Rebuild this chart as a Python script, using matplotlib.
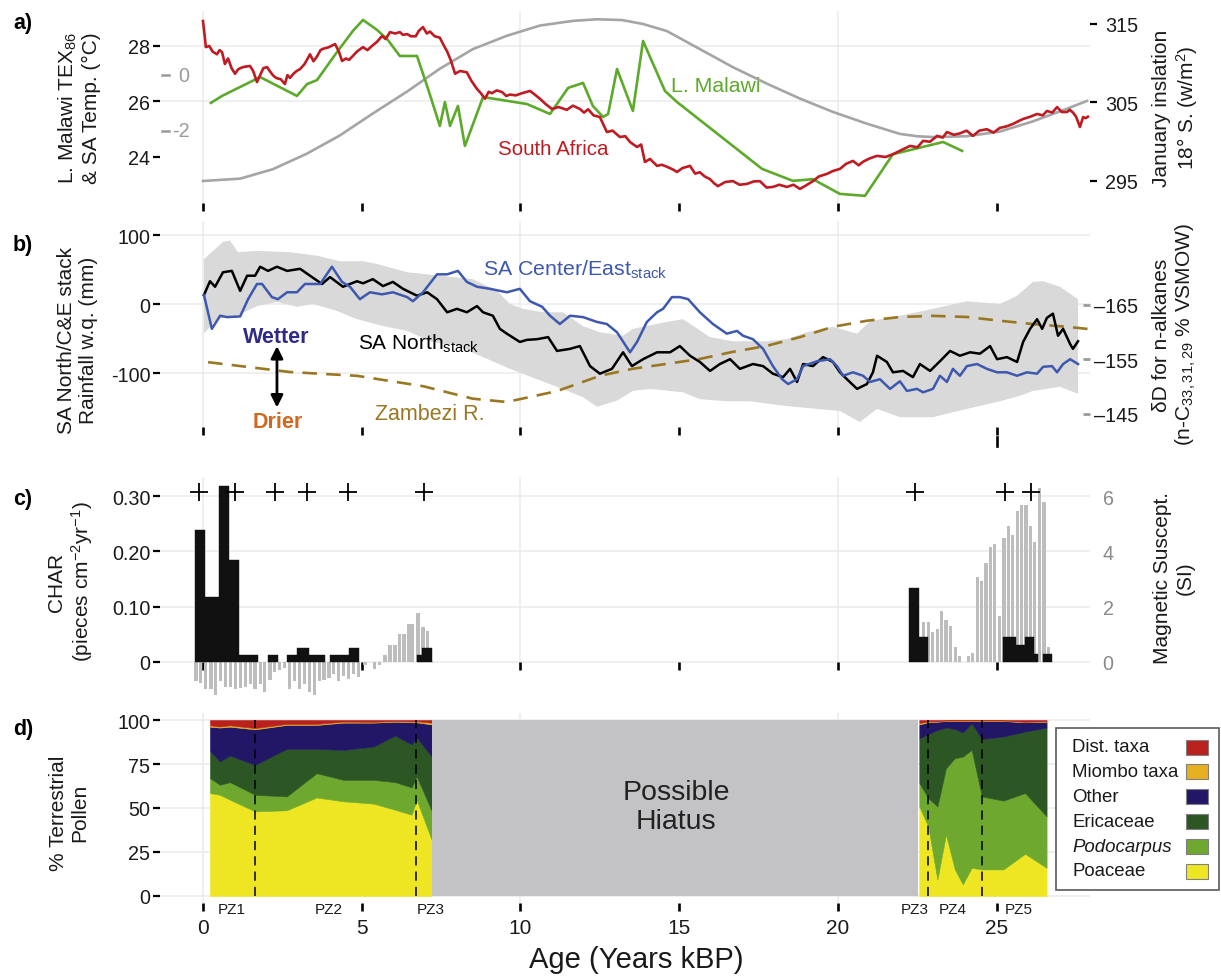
import matplotlib
matplotlib.use('Agg')
import matplotlib.pyplot as plt
from matplotlib.patches import Rectangle

plt.rcParams['font.family'] = ['Liberation Sans', 'DejaVu Sans']
plt.rcParams['mathtext.default'] = 'regular'

# ---------------- panel a data ----------------
sa_age = [
 0.00, 0.05, 0.09, 0.20, 0.30, 0.44, 0.52, 0.60, 0.69, 0.79,
 0.90, 1.01, 1.10, 1.17, 1.30, 1.48, 1.58, 1.70, 1.80, 1.90,
 2.02, 2.10, 2.20, 2.30, 2.45, 2.58, 2.66, 2.74, 2.85, 2.95,
 3.06, 3.20, 3.37, 3.48, 3.59, 3.70, 3.78, 3.95, 4.16, 4.28,
 4.38, 4.50, 4.60, 4.72, 4.85, 5.04, 5.18, 5.32, 5.48, 5.64,
 5.75, 5.89, 6.05, 6.20, 6.30, 6.43, 6.55, 6.70, 6.80, 6.93,
 7.05, 7.15, 7.30, 7.46, 7.57, 7.69, 7.80, 7.94, 8.10, 8.31,
 8.45, 8.63, 8.75, 8.88, 9.00, 9.10, 9.25, 9.42, 9.55, 9.67,
 9.85, 10.05, 10.30, 10.45, 10.61, 10.80, 10.99, 11.20, 11.46, 11.65,
 11.87, 12.00, 12.13, 12.30, 12.50, 12.72, 12.90, 13.13, 13.30, 13.45,
 13.67, 13.80, 13.92, 14.08, 14.30, 14.45, 14.61, 14.80, 14.93, 15.10,
 15.34, 15.50, 15.65, 15.80, 15.97, 16.10, 16.22, 16.45, 16.69, 16.90,
 17.13, 17.35, 17.54, 17.75, 17.95, 18.15, 18.39, 18.60, 18.80, 19.00,
 19.21, 19.40, 19.65, 19.85, 20.06, 20.25, 20.47, 20.65, 20.79, 21.00,
 21.23, 21.50, 21.73, 22.00, 22.27, 22.50, 22.68, 22.90, 23.12, 23.30,
 23.43, 23.65, 23.84, 24.05, 24.25, 24.45, 24.69, 24.90, 25.10, 25.30,
 25.51, 25.70, 25.83, 26.05, 26.27, 26.45, 26.58, 26.75, 26.90, 27.05,
 27.21, 27.30, 27.40, 27.50, 27.62, 27.72, 27.80, 27.87]
sa_temp = [
 28.90, 28.40, 27.96, 28.00, 27.80, 27.70, 27.85, 27.78, 27.35, 27.55,
 27.20, 27.00, 27.15, 27.20, 27.25, 27.28, 27.10, 26.70, 26.95, 27.20,
 27.24, 27.10, 26.95, 26.85, 26.80, 26.63, 26.95, 26.85, 27.00, 27.10,
 27.17, 27.35, 27.70, 27.45, 27.62, 27.85, 27.90, 27.95, 28.07, 27.80,
 27.46, 27.55, 27.50, 27.64, 27.80, 27.96, 27.85, 28.00, 28.15, 28.36,
 28.25, 28.50, 28.45, 28.50, 28.40, 28.43, 28.35, 28.35, 28.55, 28.68,
 28.45, 28.52, 28.35, 28.30, 28.05, 27.80, 27.50, 27.00, 27.10, 27.05,
 26.75, 26.45, 26.30, 26.10, 26.35, 26.30, 26.40, 26.34, 26.20, 26.25,
 26.22, 26.30, 26.38, 26.25, 26.10, 25.90, 25.73, 25.80, 25.70, 25.85,
 25.73, 25.60, 25.72, 25.50, 25.44, 24.90, 24.95, 24.72, 24.75, 24.54,
 24.36, 24.45, 23.82, 23.93, 23.68, 23.72, 23.65, 23.55, 23.46, 23.60,
 23.68, 23.40, 23.45, 23.30, 23.20, 23.05, 22.95, 23.10, 23.13, 23.00,
 23.03, 23.12, 23.13, 22.90, 22.92, 23.00, 22.92, 23.00, 22.85, 22.98,
 23.13, 23.30, 23.39, 23.50, 23.57, 23.75, 23.86, 23.70, 23.83, 23.95,
 24.04, 24.00, 24.10, 24.25, 24.40, 24.35, 24.58, 24.55, 24.76, 24.70,
 24.90, 24.80, 24.85, 24.95, 24.76, 24.95, 25.00, 24.88, 25.05, 25.10,
 25.19, 25.30, 25.37, 25.45, 25.55, 25.50, 25.66, 25.60, 25.80, 25.62,
 25.62, 25.70, 25.60, 25.45, 25.08, 25.44, 25.40, 25.45]

mal_age = [0.25, 0.60, 1.80, 2.96, 3.28, 3.59, 4.22, 4.72, 5.04, 5.48,
           5.80, 6.20, 6.74, 7.09, 7.46, 7.62, 7.78, 8.03, 8.25, 8.82,
           10.20, 10.93, 11.50, 11.97, 12.28, 12.60, 12.76, 13.04, 13.54, 13.86,
           14.55, 14.93, 17.61, 18.58, 19.21, 20.06, 20.85, 21.73, 23.31, 23.91]
mal_temp = [25.95, 26.20, 26.88, 26.20, 26.63, 26.77, 27.78, 28.54, 28.94, 28.58,
            28.25, 27.64, 27.64, 26.45, 25.12, 25.98, 25.12, 25.84, 24.40, 26.16,
            25.91, 25.55, 26.49, 26.67, 25.84, 25.44, 25.55, 27.17, 25.66, 28.18,
            26.38, 25.98, 23.57, 23.14, 23.20, 22.67, 22.60, 24.10, 24.54, 24.22]

ins_age = [0, 1.17, 2.2, 3.28, 4.31, 5.35, 6.43, 7.46, 8.5, 9.57,
           10.61, 11.65, 12.41, 13.2, 13.86, 14.61, 15.65, 16.69, 17.76, 18.8,
           19.84, 20.91, 21.95, 22.49, 22.99, 24.06, 25.1, 26.14, 27.21, 27.84]
ins_val = [295.0, 295.3, 296.5, 298.5, 300.8, 303.6, 306.4, 309.3, 311.8, 313.5,
           314.8, 315.4, 315.6, 315.5, 315.0, 314.1, 311.8, 309.5, 307.4, 305.5,
           303.8, 302.3, 301.0, 300.7, 300.6, 300.7, 301.3, 302.6, 304.2, 305.2]

anom_ticks = [0, -2]
anom_zero_temp = 26.94

# ---------------- panel b data ----------------
north_age = [0.03, 0.22, 0.38, 0.63, 0.91, 1.17, 1.39, 1.64, 1.80, 2.05,
 2.33, 2.65, 3.06, 3.37, 3.75, 4.00, 4.41, 4.85, 5.04, 5.35,
 5.67, 5.98, 6.30, 6.74, 7.06, 7.37, 7.69, 8.00, 8.31, 8.63,
 8.82, 9.13, 9.35, 9.57, 9.98, 10.20, 10.52, 10.87, 11.15, 11.56,
 11.87, 12.19, 12.50, 12.88, 13.23, 13.51, 13.86, 14.30, 14.71, 15.02,
 15.34, 15.65, 15.97, 16.28, 16.60, 16.91, 17.32, 17.64, 17.95, 18.27,
 18.49, 18.71, 18.90, 19.21, 19.53, 19.84, 20.06, 20.28, 20.60, 20.91,
 21.10, 21.23, 21.54, 21.73, 22.05, 22.36, 22.58, 22.90, 23.21, 23.53,
 23.84, 24.16, 24.47, 24.79, 25.01, 25.32, 25.64, 25.83, 26.05, 26.27,
 26.43, 26.58, 26.77, 26.93, 27.09, 27.31, 27.40, 27.56]
north_val = [13, 33, 25, 46, 48, 19, 41, 41, 54, 48,
 54, 48, 51, 41, 29, 39, 25, 33, 30, 36,
 26, 32, 22, 12, 17, 7, -12, -7, -12, -3,
 -12, -17, -36, -43, -55, -52, -51, -48, -68, -65,
 -61, -90, -101, -94, -70, -90, -80, -70, -70, -61,
 -75, -84, -97, -87, -80, -94, -87, -90, -101, -106,
 -94, -113, -87, -90, -77, -84, -99, -109, -123, -116,
 -99, -75, -84, -99, -97, -106, -87, -97, -83, -68,
 -75, -70, -72, -61, -80, -77, -84, -55, -36, -22,
 -36, -20, -14, -46, -36, -58, -65, -54]

ce_age = [0.03, 0.28, 0.54, 0.76, 1.17, 1.42, 1.70, 1.86, 2.17, 2.36,
 2.65, 2.96, 3.21, 3.69, 4.06, 4.38, 4.63, 4.94, 5.26, 5.64,
 5.98, 6.43, 6.61, 6.93, 7.37, 7.69, 8.03, 8.31, 8.63, 9.04,
 9.57, 9.98, 10.30, 10.68, 10.93, 11.24, 11.56, 11.97, 12.41, 12.72,
 13.04, 13.45, 13.67, 13.98, 14.30, 14.49, 14.77, 15.02, 15.28, 15.65,
 16.06, 16.50, 16.82, 17.01, 17.32, 17.64, 17.95, 18.24, 18.43, 18.71,
 18.90, 19.34, 19.75, 19.97, 20.16, 20.47, 20.79, 21.01, 21.32, 21.64,
 21.95, 22.17, 22.49, 22.68, 22.99, 23.21, 23.43, 23.62, 23.84, 24.06,
 24.38, 24.69, 25.01, 25.32, 25.64, 25.95, 26.27, 26.46, 26.74, 26.90,
 27.09, 27.31, 27.56]
ce_val = [13, -36, -17, -19, -18, 7, 29, 29, 10, 7,
 17, 17, 29, 29, 54, 32, 25, 7, 17, 14,
 17, 10, 4, 17, 43, 43, 48, 32, 25, 22,
 17, 22, 4, -4, -17, -29, -17, -19, -26, -29,
 -41, -70, -55, -26, -12, -7, 10, 10, 7, -12,
 -29, -43, -39, -46, -51, -65, -90, -109, -116, -109,
 -90, -83, -80, -90, -104, -99, -104, -113, -109, -123,
 -112, -126, -123, -128, -123, -104, -113, -94, -104, -90,
 -87, -94, -99, -99, -104, -99, -101, -91, -90, -99,
 -87, -80, -87]

band_up_age = [0.03, 0.63, 0.85, 1.10, 1.70, 2.74, 3.59, 4.31, 5.04, 5.48,
 6.43, 7.46, 8.50, 9.26, 9.67, 10.08, 10.71, 11.34, 11.97, 12.50,
 13.23, 13.54, 14.61, 15.12, 15.97, 16.69, 17.76, 18.39, 19.02, 19.84,
 20.60, 21.01, 21.95, 22.99, 24.06, 25.10, 25.64, 26.14, 26.46, 26.99, 27.56]
band_up = [65, 90, 92, 75, 77, 75, 70, 62, 62, 58,
 46, 41, 36, 19, 0, -7, -12, -12, -32, -41,
 -46, -36, -26, -22, -48, -54, -54, -51, -41, -33,
 -43, -25, -17, -7, 4, 0, 12, 32, 33, 25, 7]
band_lo_age = [0.03, 0.44, 1.07, 1.70, 2.33, 2.96, 3.46, 4.22, 4.85, 5.67,
 6.43, 7.15, 8.00, 8.72, 9.67, 10.52, 11.15, 11.97, 12.41, 13.04,
 13.54, 14.08, 15.12, 15.65, 16.50, 17.23, 18.39, 19.34, 20.06, 20.69,
 21.23, 21.95, 22.99, 24.06, 25.10, 25.73, 26.14, 26.99, 27.56]
band_lo = [-43, -22, -17, -3, 3, -4, 0, -10, -22, -32,
 -39, -54, -61, -75, -94, -109, -120, -135, -149, -140,
 -126, -123, -128, -138, -141, -141, -148, -152, -155, -171,
 -152, -164, -164, -152, -141, -133, -126, -120, -130]

zam_age = [0.16, 2.74, 4.85, 6.93, 8.50, 9.57, 11.15, 12.50, 13.54, 14.61,
           15.65, 16.69, 17.76, 18.80, 19.84, 20.91, 21.95, 22.99, 24.06, 25.10,
           26.14, 27.21, 27.87]
zam_dD = [-154.5, -152.7, -152.0, -150.1, -147.8, -147.2, -149.2, -152.0, -153.3, -154.2,
          -155.1, -156.4, -157.5, -159.1, -161.0, -162.1, -162.8, -163.0, -162.8, -162.1,
          -161.5, -161.0, -160.6]

# ---------------- panel c data ----------------
char_start = [-0.25, 0.06, 0.51, 0.83, 1.13, 1.43, 2.06, 2.66, 2.95, 3.35, 4.00,
              4.61, 6.73, 6.89, 22.25, 22.56, 25.19, 25.61, 25.89, 26.17, 26.45]
char_end = [0.06, 0.51, 0.83, 1.13, 1.43, 1.74, 2.35, 2.95, 3.35, 3.84, 4.61,
            4.91, 6.89, 7.20, 22.56, 22.83, 25.61, 25.89, 26.17, 26.31, 26.73]
char_val = [0.238, 0.118, 0.318, 0.185, 0.012, 0.012, 0.012, 0.012, 0.025, 0.012, 0.012,
            0.025, 0.012, 0.025, 0.133, 0.046, 0.046, 0.031, 0.046, 0.015, 0.015]

mag_age = [-0.22, -0.07, 0.09, 0.25, 0.40, 0.56, 0.71, 0.87, 1.02, 1.18,
           1.33, 1.49, 1.64, 1.80, 1.95, 2.11, 2.26, 2.42, 2.57, 2.73,
           2.88, 3.04, 3.19, 3.35, 3.50, 3.66, 3.81, 3.97, 4.12, 4.28,
           4.43, 4.59, 4.74, 4.90, 5.10, 5.40, 5.55,
           5.73, 5.89, 6.05, 6.20, 6.33, 6.49, 6.61, 6.77, 6.93, 7.06, 7.21,
           22.69, 22.84, 22.98, 23.13, 23.27, 23.40, 23.55, 23.69, 23.82, 24.10,
           24.24, 24.39, 24.53, 24.66, 24.81, 24.94, 25.08, 25.23, 25.36, 25.50,
           25.65, 25.79, 25.92, 26.07, 26.20, 26.34, 26.49, 26.62]
mag_val = [-0.70, -0.75, -0.96, -0.96, -1.20, -0.70, -0.90, -0.90, -0.96, -0.93,
           -0.90, -0.78, -0.96, -0.78, -1.08, -0.66, -0.36, -0.30, -0.20, -0.96,
           -0.70, -0.96, -0.78, -1.10, -1.20, -0.70, -0.66, -0.57, -0.45, -0.70,
           -0.50, -0.60, -0.45, -0.55, -0.12, -0.25, -0.12,
           0.26, 0.60, 0.60, 1.00, 1.00, 1.36, 1.36, 1.77, 1.26, 1.12, 0.05,
           1.43, 1.43, 1.10, 1.20, 1.86, 1.53, 1.31, 0.55, 0.22, 0.22,
           0.33, 3.06, 2.94, 3.59, 4.16, 4.25, 1.65, 4.47, 4.90, 4.59,
           5.45, 5.67, 5.67, 4.90, 4.35, 6.30, 5.78, 0.55]

peak_age = [-0.12, 1.01, 2.27, 3.29, 4.58, 6.96, 22.43, 25.26, 26.07]
peak_level = 0.307

# ---------------- panel d data ----------------
hol_age = [0.22, 0.53, 0.85, 1.64, 2.64, 3.58, 4.42, 5.37, 6.05, 6.57, 6.73, 7.20]
hol_poa = [58.5, 57.5, 54.7, 48.1, 48.7, 56.0, 53.8, 52.5, 49.0, 46.2, 54.7, 32.0]
hol_podo = [8.5, 5.7, 10.0, 9.4, 7.9, 13.8, 12.2, 13.5, 15.7, 15.5, 13.3, 16.5]
hol_eric = [15.5, 13.2, 15.1, 17.0, 27.0, 13.8, 17.0, 18.9, 26.4, 24.5, 22.0, 30.7]
hol_other = [13.7, 19.3, 16.4, 20.2, 13.6, 13.6, 15.5, 13.6, 7.9, 12.5, 8.7, 18.3]
hol_miombo = [0.8, 0.6, 0.8, 0.7, 0.6, 0.6, 0.6, 0.5, 0.4, 0.5, 0.6, 1.0]
hol_dist = [3.0, 3.7, 3.0, 4.6, 2.2, 2.2, 0.9, 1.0, 0.6, 0.8, 0.7, 1.5]

gla_age = [22.56, 22.84, 23.13, 23.40, 23.68, 23.93, 24.21, 24.53, 25.21, 25.89, 26.57]
gla_poa = [50.9, 39.6, 9.4, 34.9, 15.1, 6.6, 16.0, 15.1, 15.1, 24.0, 16.0]
gla_podo = [13.3, 16.1, 41.5, 37.7, 63.2, 72.6, 67.0, 41.5, 39.1, 34.5, 29.3]
gla_eric = [25.4, 36.2, 43.4, 23.1, 16.6, 13.6, 15.1, 32.6, 36.4, 34.9, 50.4]
gla_other = [7.9, 6.8, 4.7, 3.7, 4.5, 6.6, 1.3, 10.2, 8.8, 5.3, 3.3]
gla_miombo = [0.8, 0.5, 0.3, 0.3, 0.3, 0.3, 0.3, 0.3, 0.3, 0.3, 0.3]
gla_dist = [1.7, 0.8, 0.7, 0.3, 0.3, 0.3, 0.3, 0.3, 0.3, 1.0, 0.7]

hiatus_span = [7.21, 22.52]
pz_bounds = [1.64, 6.71, 22.84, 24.53]
pz_names = ['PZ1', 'PZ2', 'PZ3', 'PZ3', 'PZ4', 'PZ5']
pz_pos = [0.91, 3.97, 7.18, 22.41, 23.62, 25.70]

taxa_labels = ['Dist. taxa', 'Miombo taxa', 'Other', 'Ericaceae', 'Podocarpus', 'Poaceae']
taxa_colors = ['#B8211C', '#E7B021', '#211766', '#2C5624', '#6FA82E', '#EEE623']

x_ticks = [0, 5, 10, 15, 20, 25]
x_grid = [0, 10, 20]

# ---------------- styling ----------------
W, H = 1221, 979
fig = plt.figure(figsize=(W / 100, H / 100), dpi=100)
fig.patch.set_facecolor('white')

def rect(l, t, r, b):
    return [l / W, 1 - b / H, (r - l) / W, (b - t) / H]

def ftext(x, y, s, **kw):
    return fig.text(x / W, 1 - y / H, s, **kw)

XL = (-1.354, 27.937)
GRID = '#EBEBEB'
TXT = '#1a1a1a'
TICK_FS = 14.2
red = '#BE1B22'
green = '#5DAA2B'
ins_gray = '#A5A5A5'
blue = '#3D58AE'
brown = '#9A7722'

def base(ax):
    for s in ax.spines.values():
        s.set_visible(False)
    ax.set_xlim(*XL)
    ax.set_facecolor('none')

def xt(ax, labels=False):
    ax.set_xticks(x_ticks)
    ax.tick_params(axis='x', length=5.5, width=1.9, color='black',
                   labelbottom=labels, labelsize=15, labelcolor=TXT, pad=5)

# ---------------- panel a ----------------
axa = fig.add_axes(rect(160, 12, 1090, 204))
axa2 = axa.twinx()
base(axa); base(axa2)
axa.set_ylim(22.342, 29.261)
axa2.set_ylim(292.197, 316.656)
for y in [26, 28]:
    axa.axhline(y, color=GRID, lw=1.1, zorder=0)
for x in x_grid:
    axa.axvline(x, color=GRID, lw=1.1, zorder=0)
axa.plot(ins_age, ins_val, color=ins_gray, lw=1.9, transform=axa2.transData, zorder=2)
axa.plot(mal_age, mal_temp, color=green, lw=1.9, zorder=3)
axa.plot(sa_age, sa_temp, color=red, lw=1.9, zorder=4)
xt(axa)
axa.set_yticks([24, 26, 28])
axa.tick_params(axis='y', length=5, width=1.6, pad=2, labelsize=TICK_FS, labelcolor=TXT)
axa2.set_yticks([295, 305, 315])
axa2.tick_params(axis='y', length=5, width=1.6, pad=6, labelsize=TICK_FS, labelcolor=TXT)
for v in anom_ticks:
    t = anom_zero_temp + v
    axa.plot([-1.29, -1.07], [t, t], color='#9a9a9a', lw=1.8, clip_on=False, zorder=5)
    axa.text(-0.43, t, str(v), color='#9a9a9a', ha='right', va='center', fontsize=TICK_FS)
axa.text(11.02, 24.32, 'South Africa', color=red, fontsize=14.8, ha='center', va='center')
axa.text(14.74, 26.59, 'L. Malawi', color=green, fontsize=15.3, ha='left', va='center')

# ---------------- panel b ----------------
axb = fig.add_axes(rect(160, 222, 1090, 428))
axb2 = axb.twinx()
base(axb); base(axb2)
axb.set_ylim(-178.26, 120.29)
axb2.set_ylim(-142.61, -180.41)
for y in [-100, 0, 100]:
    axb.axhline(y, color=GRID, lw=1.1, zorder=0)
for x in x_grid:
    axb.axvline(x, color=GRID, lw=1.1, zorder=0)
axb.fill(band_up_age + band_lo_age[::-1], band_up + band_lo[::-1],
         color='#D9D9D9', lw=0, zorder=1)
axb.plot(zam_age, zam_dD, color=brown, lw=1.9, ls=(0, (5.5, 3.5)),
         transform=axb2.transData, zorder=2)
axb.plot(north_age, north_val, color='black', lw=1.8, zorder=3)
axb.plot(ce_age, ce_val, color=blue, lw=1.8, zorder=4)
xt(axb)
axb.plot([25, 25], [-0.05, -0.09], color='black', lw=1.9,
         transform=axb.get_xaxis_transform(), clip_on=False)
axb.set_yticks([-100, 0, 100])
axb.set_yticklabels(['-100', '0', '100'])
axb.tick_params(axis='y', length=5, width=1.6, pad=2, labelsize=TICK_FS, labelcolor=TXT)
axb2.set_yticks([-165, -155, -145])
axb2.set_yticklabels(['\u2013165', '\u2013155', '\u2013145'])
axb2.tick_params(axis='y', direction='in', length=5, width=2, color='#9a9a9a',
                 pad=3, labelsize=TICK_FS, labelcolor=TXT)
axb.text(8.82, 42.8, 'SA Center/East$_{stack}$', color=blue, fontsize=15.4,
         ha='left', va='baseline')
axb.text(4.88, -64.5, 'SA North$_{stack}$', color='black', fontsize=15,
         ha='left', va='baseline')
axb.text(2.31, -46.4, 'Wetter', color='#2E2A86', fontsize=15.5, fontweight='bold',
         ha='center', va='center')
axb.text(2.36, -169.6, 'Drier', color='#D0691F', fontsize=15.5, fontweight='bold',
         ha='center', va='center')
axb.annotate('', xy=(2.33, -61), xytext=(2.33, -150),
             arrowprops=dict(arrowstyle='<|-|>', color='black', lw=2,
                             mutation_scale=18, shrinkA=0, shrinkB=0))
axb.text(5.42, -159.4, 'Zambezi R.', color=brown, fontsize=15.5, ha='left', va='center')

# ---------------- panel c ----------------
axc = fig.add_axes(rect(160, 478, 1090, 700))
axc2 = axc.twinx()
base(axc); base(axc2)
axc.set_ylim(-0.0669, 0.3345)
axc2.set_ylim(-1.338, 6.69)
for y in [0, 0.1, 0.2, 0.3]:
    axc.axhline(y, color=GRID, lw=1.1, zorder=0)
axc.vlines(x_grid, 0, 0.3345, color=GRID, lw=1.1, zorder=0)
axc.bar(mag_age, mag_val, width=0.1, color='#BDBDBD', lw=0,
        transform=axc2.transData, zorder=2)
axc.bar(char_start, char_val, width=[e - s for s, e in zip(char_start, char_end)],
        align='edge', color='#111111', edgecolor='#111111', lw=0.3, zorder=3)
axc.plot(peak_age, [peak_level] * len(peak_age), ls='none', marker='+', ms=13,
         mew=1.3, color='black', zorder=5, clip_on=False)
axc.spines['bottom'].set_position(('data', 0))
xt(axc)
axc.tick_params(axis='x', length=6)
axc.set_yticks([0, 0.1, 0.2, 0.3])
axc.set_yticklabels(['0', '0.10', '0.20', '0.30'])
axc.tick_params(axis='y', length=5, width=1.6, pad=2, labelsize=TICK_FS, labelcolor=TXT)
axc2.set_yticks([0, 2, 4, 6])
axc2.tick_params(axis='y', length=0, pad=9, labelsize=TICK_FS, labelcolor='#8a8a8a')

# ---------------- panel d ----------------
axd = fig.add_axes(rect(160, 714, 1090, 904))
base(axd)
axd.set_ylim(-3.98, 103.98)
for y in [0, 25, 50, 75, 100]:
    axd.axhline(y, color=GRID, lw=1.1, zorder=0)
for x in x_grid:
    axd.axvline(x, color=GRID, lw=1.1, zorder=0)
stack_cols = taxa_colors[::-1]
axd.stackplot(hol_age, hol_poa, hol_podo, hol_eric, hol_other, hol_miombo, hol_dist,
              colors=stack_cols, lw=0.4, edgecolor='face', zorder=2)
axd.stackplot(gla_age, gla_poa, gla_podo, gla_eric, gla_other, gla_miombo, gla_dist,
              colors=stack_cols, lw=0.4, edgecolor='face', zorder=2)
axd.fill_between(hiatus_span, 0, 100, color='#C3C3C5', lw=0, zorder=2)
axd.vlines(pz_bounds, 0, 100, colors='black', linestyles=(0, (6, 4)), lw=1.1, zorder=3)
axd.text(14.9, 51, 'Possible\nHiatus', ha='center', va='center', fontsize=20.5,
         color='#222222', linespacing=1.15)
for name, p in zip(pz_names, pz_pos):
    axd.annotate(name, xy=(p, 0), xycoords=('data', 'axes fraction'),
                 xytext=(0, -4.5), textcoords='offset points',
                 ha='center', va='center', fontsize=11, color=TXT, annotation_clip=False)
xt(axd, labels=True)
axd.set_yticks([0, 25, 50, 75, 100])
axd.tick_params(axis='y', length=5, width=1.6, pad=2, labelsize=TICK_FS, labelcolor=TXT)

# legend (manual box)
fig.add_artist(Rectangle((1056 / W, 1 - 891 / H), (1219 - 1056) / W, (891 - 729) / H,
                         transform=fig.transFigure, facecolor='white',
                         edgecolor='#5a5a5a', lw=1.2, zorder=10))
for i, (lab, col) in enumerate(zip(taxa_labels, taxa_colors)):
    yc = 748 + i * 24.8
    ftext(1072, yc, lab, fontsize=13.4, ha='left', va='center', color=TXT, zorder=11,
          fontstyle='italic' if lab == 'Podocarpus' else 'normal')
    fig.add_artist(Rectangle((1186 / W, 1 - (yc + 7.5) / H), 22 / W, 15 / H,
                             transform=fig.transFigure, facecolor=col,
                             edgecolor='#808080', lw=0.8, zorder=11))

# ---------------- axis titles and panel letters ----------------
lab_kw = dict(rotation=90, ha='center', va='center', fontsize=15, color=TXT,
              multialignment='center', linespacing=1.2)
ftext(79, 108, 'L. Malawi TEX$_{86}$\n& SA Temp. (\u00b0C)', **lab_kw)
ftext(78, 340, 'SA North/C&E stack\nRainfall w.q. (mm)', **lab_kw)
ftext(71, 582, 'CHAR\n(pieces cm$^{-2}$yr$^{-1}$)', **lab_kw)
ftext(69, 813, '% Terrestrial\nPollen', **lab_kw)
ftext(1176, 108, 'January inslation\n18\u00b0 S. (w/m$^{2}$)', **lab_kw)
ftext(1175, 335, '\u03b4D for n-alkanes\n(n-C$_{33,31,29}$ % VSMOW)', **lab_kw)
ftext(1174, 578, 'Magnetic Suscept.\n(SI)', **lab_kw)

for letter, y in [('a)', 23), ('b)', 246), ('c)', 500), ('d)', 730)]:
    ftext(23, y, letter, fontsize=15.5, fontweight='bold', ha='center', va='center', color='black')

ftext(636, 960, 'Age (Years kBP)', fontsize=21, ha='center', va='center', color=TXT)

fig.savefig('out.png', dpi=100, facecolor='white')
